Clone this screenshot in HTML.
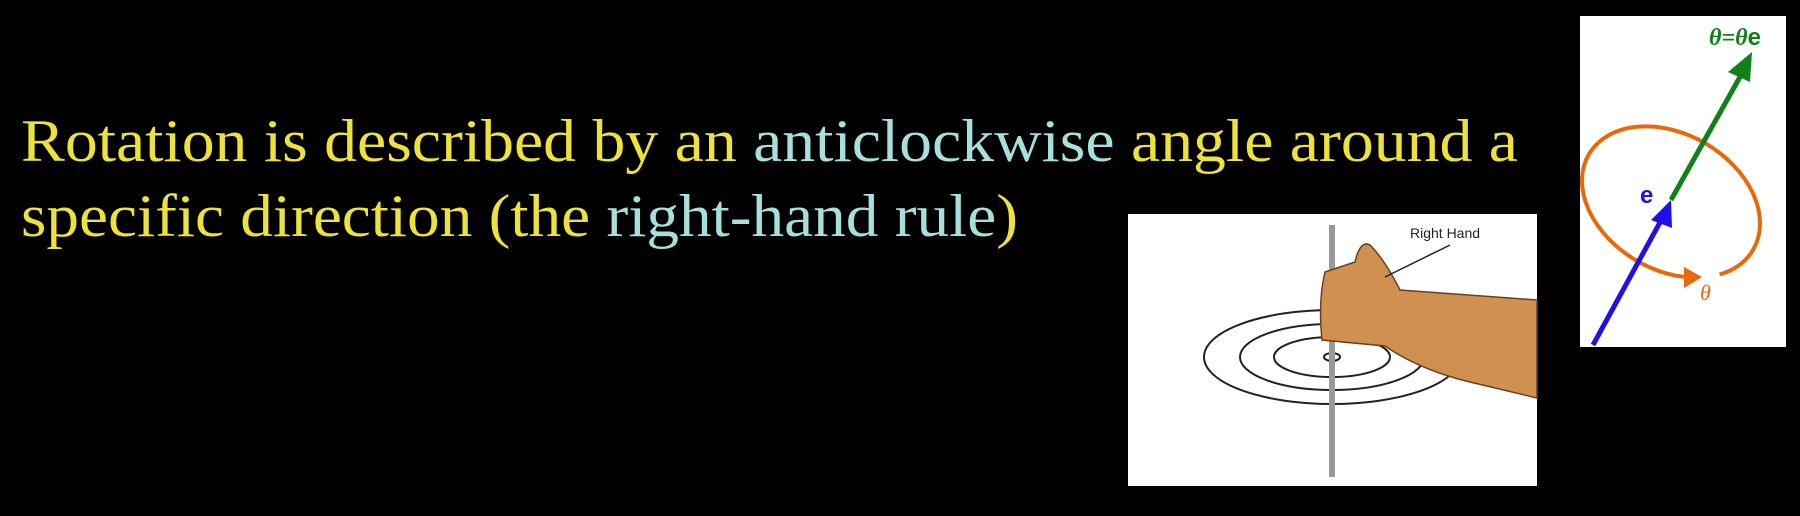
<!DOCTYPE html>
<html><head><meta charset="utf-8"><style>
html,body{margin:0;padding:0;background:#000;width:1800px;height:516px;overflow:hidden}
svg{display:block}
</style></head><body>
<svg width="1800" height="516" viewBox="0 0 1800 516">
<g font-family="'Liberation Serif', serif" font-size="60">
<text x="21" y="161" textLength="1497" lengthAdjust="spacingAndGlyphs" fill="#ece23a">Rotation is described by an <tspan fill="#a6e0dc">anticlockwise</tspan> angle around a</text>
<text x="21" y="236" textLength="997" lengthAdjust="spacingAndGlyphs" fill="#ece23a">specific direction (the <tspan fill="#a6e0dc">right-hand rule</tspan>)</text>
</g>
<g>
<rect x="1128" y="214" width="409" height="272" fill="#fff"/>
<g fill="none" stroke="#222" stroke-width="2">
<ellipse cx="1332" cy="357" rx="128" ry="47"/>
<ellipse cx="1332" cy="357" rx="92" ry="33"/>
<ellipse cx="1332" cy="357" rx="58" ry="20"/>
<ellipse cx="1332" cy="357" rx="8" ry="4"/>
</g>
<rect x="1329" y="225" width="6" height="252" fill="#999"/>
<path d="M1537 300 L1400 290 Q1385 260 1370 245 Q1360 240 1355 262 L1325 272 Q1318 300 1322 340 L1385 346 Q1420 370 1470 382 L1537 398 Z" fill="#d09050" stroke="#6a4020" stroke-width="1.5"/>
<line x1="1385" y1="277" x2="1450" y2="245" stroke="#222" stroke-width="1.5"/>
<text x="1410" y="238" font-family="'Liberation Sans', sans-serif" font-size="14" fill="#222">Right Hand</text>
</g>
<g>
<rect x="1580" y="16" width="206" height="331" fill="#fff"/>
<ellipse cx="1671" cy="202" rx="95" ry="68" transform="rotate(30 1671 202)" fill="none" stroke="#e8690a" stroke-width="4" stroke-dasharray="482 36" stroke-dashoffset="439"/>
<polygon points="1702,277 1684,267 1684,288" fill="#e8690a"/>
<line x1="1593" y1="345" x2="1664" y2="215" stroke="#2010e8" stroke-width="5"/>
<polygon points="1671,200 1651,220 1672,228" fill="#2010e8"/>
<line x1="1671" y1="200" x2="1745" y2="68" stroke="#10801a" stroke-width="5"/>
<polygon points="1752,52 1728,72 1750,82" fill="#10801a"/>
<text x="1640" y="203" font-family="'Liberation Sans', sans-serif" font-weight="bold" font-size="24" fill="#2010e8">e</text>
<text x="1700" y="300" font-family="'Liberation Serif', serif" font-style="italic" font-size="22" fill="#e8690a">θ</text>
<text x="1709" y="45" font-family="'Liberation Serif', serif" font-weight="bold" font-style="italic" font-size="24" fill="#10801a">θ=θ<tspan font-family="'Liberation Sans', sans-serif" font-style="normal">e</tspan></text>
</g>
</svg>
</body></html>
